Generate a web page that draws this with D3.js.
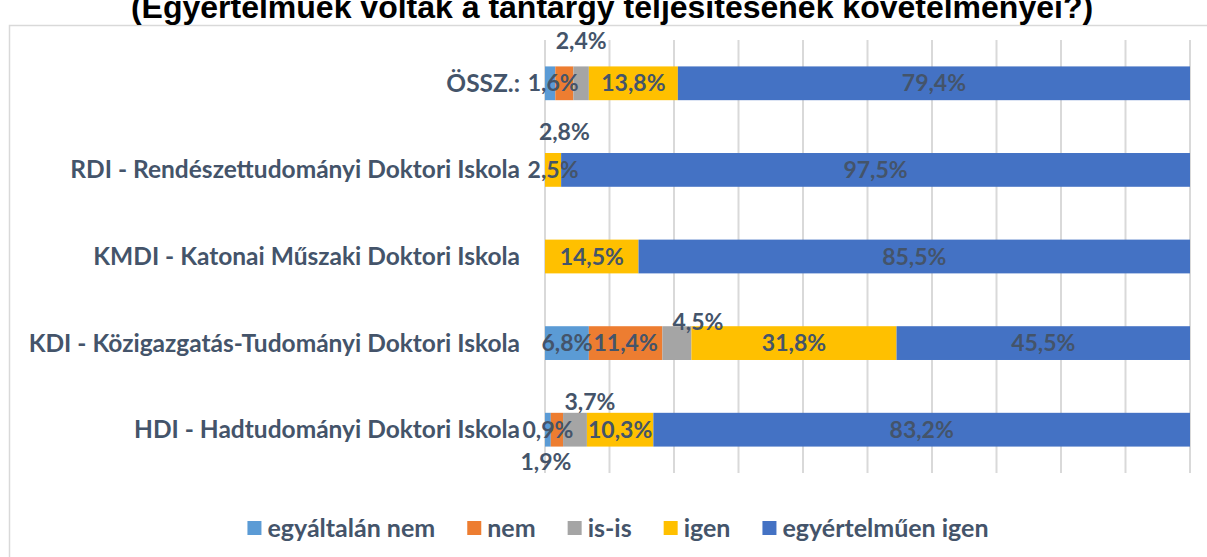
<!DOCTYPE html>
<html>
<head>
<meta charset="utf-8">
<script src="https://cdn.jsdelivr.net/npm/d3@7"></script>
<style>
  body { margin: 0; background: #fff; }
  svg { display: block; }
</style>
</head>
<body>
<svg id="chart" width="1207" height="557"></svg>
<script>
// categories (top to bottom)
const categories = [
  "ÖSSZ.:",
  "RDI - Rendészettudományi Doktori Iskola",
  "KMDI - Katonai Műszaki Doktori Iskola",
  "KDI - Közigazgatás-Tudományi Doktori Iskola",
  "HDI - Hadtudományi Doktori Iskola"
];

// series names
const seriesNames = ["egyáltalán nem", "nem", "is-is", "igen", "egyértelműen igen"];

// values in percent, same order as categories
const egyaltalanNem = [1.6, 0, 0, 6.8, 0.9];
const nem = [2.8, 0, 0, 11.4, 1.9];
const isIs = [2.4, 0, 0, 4.5, 3.7];
const igen = [13.8, 2.5, 14.5, 31.8, 10.3];
const egyertelmuenIgen = [79.4, 97.5, 85.5, 45.5, 83.2];

const xTicks = [0, 10, 20, 30, 40, 50, 60, 70, 80, 90, 100];

const colors = ["#5B9BD5", "#ED7D31", "#A5A5A5", "#FFC000", "#4472C4"];
const textColor = "#44546A";

// hand-moved labels for the thin segments (pixel shift from segment center)
const labelShift = {
  "0|0": [3, 0],
  "0|1": [0, 49],
  "0|2": [0, -42],
  "3|2": [21, -21],
  "4|1": [-11, 32],
  "4|2": [15, -28]
};

const svg = d3.select("#chart");

// chart area frame
svg.append("rect")
   .attr("x", 9.5).attr("y", 25.5)
   .attr("width", 1300).attr("height", 600)
   .attr("fill", "#fff")
   .attr("stroke", "#D9D9D9").attr("stroke-width", 1.5);

// title (cut off at the top, as in the source image)
svg.append("text")
   .attr("x", 612).attr("y", 18)
   .attr("text-anchor", "middle")
   .attr("font-family", "Liberation Sans, Arial, sans-serif")
   .attr("font-weight", "bold")
   .attr("font-size", 32)
   .attr("fill", "#000")
   .text("(Egyértelműek voltak a tantárgy teljesítésének követelményei?)");

const table = categories.map((c, i) => ({
  cat: c,
  values: [egyaltalanNem[i], nem[i], isIs[i], igen[i], egyertelmuenIgen[i]]
}));

const x = d3.scaleLinear().domain([0, 100]).range([545, 1190]);
const y = d3.scaleBand().domain(categories).range([40, 473]).paddingInner(0.61).paddingOuter(0.305);

// gridlines
svg.append("g")
   .selectAll("line")
   .data(xTicks)
   .join("line")
   .attr("x1", d => x(d)).attr("x2", d => x(d))
   .attr("y1", 40).attr("y2", 473)
   .attr("stroke", "#D9D9D9")
   .attr("stroke-width", 2);

// stacked segments
const segs = [];
table.forEach((row, ci) => {
  let acc = 0;
  row.values.forEach((v, si) => {
    segs.push({ ci, si, cat: row.cat, v, x0: acc, x1: acc + v });
    acc += v;
  });
});

svg.append("g")
   .selectAll("rect")
   .data(segs.filter(d => d.v > 0))
   .join("rect")
   .attr("x", d => x(d.x0))
   .attr("y", d => y(d.cat))
   .attr("width", d => x(d.x1) - x(d.x0))
   .attr("height", y.bandwidth())
   .attr("fill", d => colors[d.si]);

// category labels
svg.append("g")
   .selectAll("text")
   .data(categories)
   .join("text")
   .attr("x", 520)
   .attr("y", d => y(d) + y.bandwidth() / 2)
   .attr("dy", "0.35em")
   .attr("text-anchor", "end")
   .attr("font-family", "Lato, sans-serif")
   .attr("font-weight", "bold")
   .attr("font-size", 24.5)
   .attr("fill", textColor)
   .text(d => d);

// data labels
const fmt = v => v.toFixed(1).replace(".", ",") + "%";
svg.append("g")
   .selectAll("text")
   .data(segs.filter(d => d.v > 0))
   .join("text")
   .attr("x", d => {
     const s = labelShift[d.ci + "|" + d.si] || [0, 0];
     return x((d.x0 + d.x1) / 2) + s[0];
   })
   .attr("y", d => {
     const s = labelShift[d.ci + "|" + d.si] || [0, 0];
     return y(d.cat) + y.bandwidth() / 2 + s[1];
   })
   .attr("dy", "0.35em")
   .attr("text-anchor", "middle")
   .attr("font-family", "Lato, sans-serif")
   .attr("font-weight", "bold")
   .attr("font-size", 23)
   .attr("fill", textColor)
   .text(d => fmt(d.v));

// legend
const legend = svg.append("g");
const items = legend.selectAll("g")
   .data(seriesNames)
   .join("g");
items.append("rect")
   .attr("width", 14).attr("height", 14)
   .attr("y", -7)
   .attr("fill", (d, i) => colors[i]);
items.append("text")
   .attr("x", 20)
   .attr("dy", "0.35em")
   .attr("font-family", "Lato, sans-serif")
   .attr("font-weight", "bold")
   .attr("font-size", 25)
   .attr("fill", textColor)
   .text(d => d);

let lx = 0;
items.each(function () {
  const w = d3.select(this).select("text").node().getComputedTextLength();
  d3.select(this).attr("transform", `translate(${lx},0)`);
  lx += 20 + w + 32;
});
const total = lx - 32;
legend.attr("transform", `translate(${618 - total / 2},528)`);
</script>
</body>
</html>
